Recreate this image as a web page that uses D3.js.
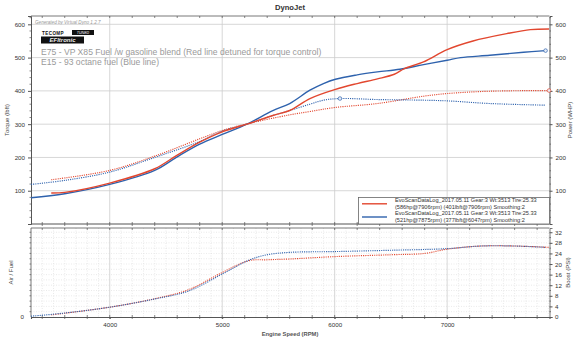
<!DOCTYPE html>
<html>
<head>
<meta charset="utf-8">
<script src="https://cdn.jsdelivr.net/npm/d3@7/dist/d3.min.js"></script>
<style>
  html, body { margin: 0; padding: 0; background: #fff; }
  svg { display: block; }
  text { font-family: "Liberation Sans", Arial, sans-serif; }
</style>
</head>
<body>
<svg id="chart" width="580" height="341"></svg>
<script>
// ---- Run data (two dyno pulls) ----
const e75PowerRpm = [3480, 3600, 4000, 4400, 4600, 4800, 5000, 5220, 5450, 5600, 5780, 6000, 6200, 6380, 6530, 6620, 6790, 7000, 7230, 7530, 7740, 7906];
const e75Power    = [93, 95, 123, 166, 207, 246, 277, 300, 326, 341, 377, 404, 422, 436, 450, 467, 487, 524, 550, 572, 584, 586];

const e15PowerRpm = [3300, 3600, 4000, 4400, 4600, 4800, 5000, 5220, 5450, 5600, 5780, 5900, 6007, 6200, 6380, 6580, 6790, 7000, 7120, 7380, 7680, 7875];
const e15Power    = [79, 91, 119, 161, 202, 240, 269, 300, 341, 362, 402, 422, 435, 448, 457, 465, 479, 492, 500, 507, 516, 521];

const e75TorqueRpm = [3480, 4000, 4400, 4800, 5000, 5220, 5600, 5780, 6000, 6380, 6790, 7000, 7380, 7906];
const e75Torque    = [133, 161, 204, 256, 281, 301, 328, 338, 350, 362, 384, 392, 399, 401];

const e15TorqueRpm = [3300, 3600, 4000, 4400, 4800, 5000, 5220, 5450, 5600, 5780, 5900, 6047, 6380, 6790, 7000, 7380, 7875];
const e15Torque    = [119, 131, 156, 200, 248, 279, 300, 326, 341, 360, 372, 377, 374, 372, 370, 362, 357];

const e75BoostRpm = [3480, 4000, 4400, 4700, 5000, 5240, 5400, 5600, 6000, 6500, 6800, 7000, 7300, 7600, 7906];
const e75Boost    = [0.8, 3.7, 6.9, 10.3, 16.8, 21.3, 21.6, 21.9, 22.8, 23.5, 24.0, 25.6, 26.8, 26.8, 26.3];

const e15BoostRpm = [3300, 3600, 4000, 4400, 4700, 5000, 5240, 5400, 5600, 6000, 6500, 7000, 7300, 7600, 7875];
const e15Boost    = [0.3, 1.5, 3.7, 6.8, 9.8, 16.2, 21.5, 23.5, 24.4, 24.7, 25.2, 25.8, 26.8, 26.8, 26.3];

// peak markers
const markerRpm   = [7875, 6047, 7906];
const markerValue = [521, 377, 401];
const markerRun   = ["e15", "e15", "e75"];

// ---- Tick labels ----
const rpmTicks    = [4000, 5000, 6000, 7000];
const mainTicks   = [100, 200, 300, 400, 500, 600];
const boostTicks  = [0, 4, 8, 12, 16, 20, 24, 28, 32];

const legendLines = [
  "EvoScanDataLog_2017.05.11 Gear:3 Wt:3513 Tire:25.33",
  "(586hp@7906rpm) (401lbft@7906rpm) Smoothing:2",
  "EvoScanDataLog_2017.05.11 Gear:3 Wt:3513 Tire:25.33",
  "(521hp@7875rpm) (377lbft@6047rpm) Smoothing:2"
];
const noteLines = [
  "E75 - VP X85 Fuel /w gasoline blend (Red line detuned for torque control)",
  "E15 - 93 octane fuel (Blue line)"
];

const RED = "#e2472f", BLUE = "#2e62ad";
const svg = d3.select("#chart");

const L = 31, R = 549.5;
const mainTop = 16, mainBot = 224;
const lowTop = 228, lowBot = 317;

const x = d3.scaleLinear().domain([3300, 7910]).range([L, R]);
const yMain = d3.scaleLinear().domain([0, 625]).range([mainBot, mainTop]);
const yBoost = d3.scaleLinear().domain([0, 33.6]).range([lowBot, lowTop]);

const axisCol = "#555", gridCol = "#cdcdcd", tickFont = 6.2;

// Title
svg.append("text").attr("x", 290).attr("y", 10).attr("text-anchor", "middle")
  .attr("font-size", 7.6).attr("font-weight", "bold").attr("fill", "#333").text("DynoJet");

// ---------- main panel ----------
const gMain = svg.append("g");
// grid
gMain.selectAll(".hg").data(mainTicks).join("line")
  .attr("x1", L).attr("x2", R).attr("y1", d => yMain(d)).attr("y2", d => yMain(d))
  .attr("stroke", gridCol).attr("stroke-width", 0.8);
gMain.selectAll(".vg").data(rpmTicks).join("line")
  .attr("x1", d => x(d)).attr("x2", d => x(d)).attr("y1", mainTop).attr("y2", mainBot)
  .attr("stroke", gridCol).attr("stroke-width", 0.8);

// left axis
const leftAxis = d3.axisLeft(yMain).tickValues(mainTicks).tickSize(3).tickPadding(3);
const gLeft = gMain.append("g").attr("transform", `translate(${L},0)`).call(leftAxis);
const rightAxis = d3.axisRight(yMain).tickValues(mainTicks).tickSize(3).tickPadding(3);
const gRight = gMain.append("g").attr("transform", `translate(${R},0)`).call(rightAxis);
[gLeft, gRight].forEach(g => {
  g.select(".domain").attr("stroke", axisCol);
  g.selectAll(".tick line").attr("stroke", axisCol);
  g.selectAll("text").attr("font-size", tickFont).attr("fill", "#333").attr("font-family", "Liberation Sans, Arial, sans-serif");
});
// minor ticks left / right
const minorMain = d3.range(20, 625, 20).filter(v => v % 100 !== 0);
gMain.selectAll(".mtl").data(minorMain).join("line")
  .attr("x1", L - 1.5).attr("x2", L).attr("y1", d => yMain(d)).attr("y2", d => yMain(d)).attr("stroke", axisCol).attr("stroke-width", 0.7);
gMain.selectAll(".mtr").data(minorMain).join("line")
  .attr("x1", R).attr("x2", R + 1.5).attr("y1", d => yMain(d)).attr("y2", d => yMain(d)).attr("stroke", axisCol).attr("stroke-width", 0.7);

// top & bottom borders with rpm ticks
const rpmMinor = d3.range(3400, 7901, 200);
gMain.append("line").attr("x1", L).attr("x2", R).attr("y1", mainTop).attr("y2", mainTop).attr("stroke", axisCol).attr("stroke-width", 0.8);
gMain.append("line").attr("x1", L).attr("x2", R).attr("y1", mainBot).attr("y2", mainBot).attr("stroke", axisCol).attr("stroke-width", 1.2);
gMain.selectAll(".tt").data(rpmMinor).join("line")
  .attr("x1", d => x(d)).attr("x2", d => x(d)).attr("y1", mainTop).attr("y2", mainTop + 2).attr("stroke", axisCol).attr("stroke-width", 0.7);
gMain.selectAll(".bt").data(rpmMinor).join("line")
  .attr("x1", d => x(d)).attr("x2", d => x(d)).attr("y1", mainBot - 2).attr("y2", mainBot + 2).attr("stroke", axisCol).attr("stroke-width", 0.7);

// axis titles
svg.append("text").attr("transform", `translate(9,${(mainTop + mainBot) / 2}) rotate(-90)`)
  .attr("text-anchor", "middle").attr("font-size", 6).attr("fill", "#444").text("Torque (lbft)");
svg.append("text").attr("transform", `translate(572,${(mainTop + mainBot) / 2}) rotate(-90)`)
  .attr("text-anchor", "middle").attr("font-size", 6).attr("fill", "#444").text("Power (WHP)");

// watermark & logos
svg.append("text").attr("x", 35).attr("y", 23.5).attr("font-size", 4.6).attr("font-style", "italic")
  .attr("fill", "#999").text("Generated by Virtual Dyno 1.2.7");
svg.append("line").attr("x1", 34).attr("x2", 109).attr("y1", 24.5).attr("y2", 24.5).attr("stroke", "#ddd").attr("stroke-width", 0.5);
svg.append("text").attr("x", 42).attr("y", 34.5).attr("font-size", 4.6).attr("font-weight", "bold")
  .attr("fill", "#111").attr("letter-spacing", 0.4).text("TECOMP");
svg.append("rect").attr("x", 72).attr("y", 30).attr("width", 22).attr("height", 5).attr("fill", "#111");
svg.append("text").attr("x", 83).attr("y", 34).attr("font-size", 3.6).attr("text-anchor", "middle")
  .attr("fill", "#fff").attr("font-style", "italic").text("TUNED");
svg.append("rect").attr("x", 41).attr("y", 36.5).attr("width", 43).attr("height", 7).attr("fill", "#111");
svg.append("text").attr("x", 62.5).attr("y", 42).attr("font-size", 6).attr("text-anchor", "middle")
  .attr("fill", "#eee").attr("font-style", "italic").attr("font-weight", "bold").text("EFItronic");

// notes
svg.selectAll(".note").data(noteLines).join("text")
  .attr("x", 41).attr("y", (d, i) => 54.5 + i * 10.6)
  .attr("font-family", "Open Sans, sans-serif").attr("font-size", 8.6).attr("fill", "#9a9a9a")
  .text(d => d);

// lines
const line = (ys) => d3.line().x(d => x(d[0])).y(d => ys(d[1])).curve(d3.curveCatmullRom.alpha(0.5));
const zip = (a, b) => a.map((v, i) => [v, b[i]]);

const gLines = svg.append("g");
function draw(g, data, ys, color, dotted) {
  g.append("path").datum(data).attr("d", line(ys)).attr("fill", "none").attr("stroke", color)
    .attr("stroke-width", dotted ? 1.15 : 1.4)
    .attr("stroke-dasharray", dotted ? "1.1,1.1" : null);
}
draw(gLines, zip(e75TorqueRpm, e75Torque), yMain, RED, true);
draw(gLines, zip(e15TorqueRpm, e15Torque), yMain, BLUE, true);
draw(gLines, zip(e15PowerRpm, e15Power), yMain, BLUE, false);
draw(gLines, zip(e75PowerRpm, e75Power), yMain, RED, false);

gLines.selectAll(".mk").data(markerRpm.map((r, i) => [r, markerValue[i], markerRun[i]])).join("circle")
  .attr("cx", d => x(d[0])).attr("cy", d => yMain(d[1])).attr("r", 1.8)
  .attr("fill", "#e8eef8").attr("stroke", d => d[2] === "e75" ? RED : BLUE).attr("stroke-width", 0.7);

// legend
const lg = svg.append("g");
lg.append("rect").attr("x", 358.5).attr("y", 197.5).attr("width", R - 358.5).attr("height", mainBot - 197.5)
  .attr("fill", "#fff").attr("stroke", "#666").attr("stroke-width", 0.8);
lg.append("line").attr("x1", 362).attr("x2", 387).attr("y1", 203.8).attr("y2", 203.8).attr("stroke", RED).attr("stroke-width", 1.4);
lg.append("line").attr("x1", 362).attr("x2", 387).attr("y1", 217).attr("y2", 217).attr("stroke", BLUE).attr("stroke-width", 1.4);
lg.selectAll(".lt").data(legendLines).join("text")
  .attr("x", 395).attr("y", (d, i) => 202.3 + i * 6.5)
  .attr("font-size", 5.6).attr("fill", "#333").text(d => d);

// ---------- lower panel ----------
const gLow = svg.append("g");
// minor dotted grid
gLow.selectAll(".mh").data(d3.range(2, 33.6, 2)).join("line")
  .attr("x1", L).attr("x2", R).attr("y1", d => yBoost(d)).attr("y2", d => yBoost(d))
  .attr("stroke", "#dcdcdc").attr("stroke-width", 0.6).attr("stroke-dasharray", "1,1.5");
gLow.selectAll(".mv").data(d3.range(3400, 7901, 100).filter(v => v % 1000 !== 0)).join("line")
  .attr("x1", d => x(d)).attr("x2", d => x(d)).attr("y1", lowTop).attr("y2", lowBot)
  .attr("stroke", "#dcdcdc").attr("stroke-width", 0.6).attr("stroke-dasharray", "1,1.5");
gLow.selectAll(".vg").data(rpmTicks).join("line")
  .attr("x1", d => x(d)).attr("x2", d => x(d)).attr("y1", lowTop).attr("y2", lowBot)
  .attr("stroke", gridCol).attr("stroke-width", 0.8);

// borders
gLow.append("line").attr("x1", L).attr("x2", R).attr("y1", lowTop).attr("y2", lowTop).attr("stroke", axisCol).attr("stroke-width", 0.8);
gLow.append("line").attr("x1", L).attr("x2", L).attr("y1", lowTop).attr("y2", lowBot).attr("stroke", axisCol).attr("stroke-width", 0.8);
gLow.selectAll(".tt").data(rpmMinor).join("line")
  .attr("x1", d => x(d)).attr("x2", d => x(d)).attr("y1", lowTop).attr("y2", lowTop + 2).attr("stroke", axisCol).attr("stroke-width", 0.7);
gLow.selectAll(".lm").data(d3.range(2, 33.6, 2)).join("line")
  .attr("x1", L - 1.5).attr("x2", L).attr("y1", d => yBoost(d)).attr("y2", d => yBoost(d)).attr("stroke", axisCol).attr("stroke-width", 0.7);

const boostAxis = d3.axisRight(yBoost).tickValues(boostTicks).tickSize(3).tickPadding(2.5);
const gB = gLow.append("g").attr("transform", `translate(${R},0)`).call(boostAxis);
gLow.selectAll(".rm").data(d3.range(2, 33.6, 4)).join("line")
  .attr("x1", R).attr("x2", R + 1.5).attr("y1", d => yBoost(d)).attr("y2", d => yBoost(d)).attr("stroke", axisCol).attr("stroke-width", 0.7);

const xAxis = d3.axisBottom(x).tickValues(rpmTicks).tickFormat(d3.format("d")).tickSize(2).tickPadding(4);
const gX = gLow.append("g").attr("transform", `translate(0,${lowBot})`).call(xAxis);
gLow.selectAll(".bt").data(rpmMinor).join("line")
  .attr("x1", d => x(d)).attr("x2", d => x(d)).attr("y1", lowBot - 2).attr("y2", lowBot + 2).attr("stroke", axisCol).attr("stroke-width", 0.7);

[gB, gX].forEach(g => {
  g.select(".domain").attr("stroke", axisCol).attr("stroke-width", 1.1);
  g.selectAll(".tick line").attr("stroke", axisCol);
  g.selectAll("text").attr("font-size", tickFont).attr("fill", "#333").attr("font-family", "Liberation Sans, Arial, sans-serif");
});
gB.select(".domain").attr("stroke-width", 0.8);

svg.append("text").attr("x", L - 7).attr("y", lowBot + 2).attr("text-anchor", "end")
  .attr("font-size", tickFont).attr("fill", "#333").text("0");

draw(gLow, zip(e75BoostRpm, e75Boost), yBoost, RED, true);
draw(gLow, zip(e15BoostRpm, e15Boost), yBoost, BLUE, true);

svg.append("text").attr("transform", `translate(13,${(lowTop + lowBot) / 2}) rotate(-90)`)
  .attr("text-anchor", "middle").attr("font-size", 6).attr("fill", "#444").text("Air / Fuel");
svg.append("text").attr("transform", `translate(570,${(lowTop + lowBot) / 2}) rotate(-90)`)
  .attr("text-anchor", "middle").attr("font-size", 6).attr("fill", "#444").text("Boost (PSI)");
svg.append("text").attr("x", 290).attr("y", 336).attr("text-anchor", "middle")
  .attr("font-size", 5.8).attr("font-weight", "bold").attr("fill", "#555").text("Engine Speed (RPM)");
</script>
</body>
</html>
